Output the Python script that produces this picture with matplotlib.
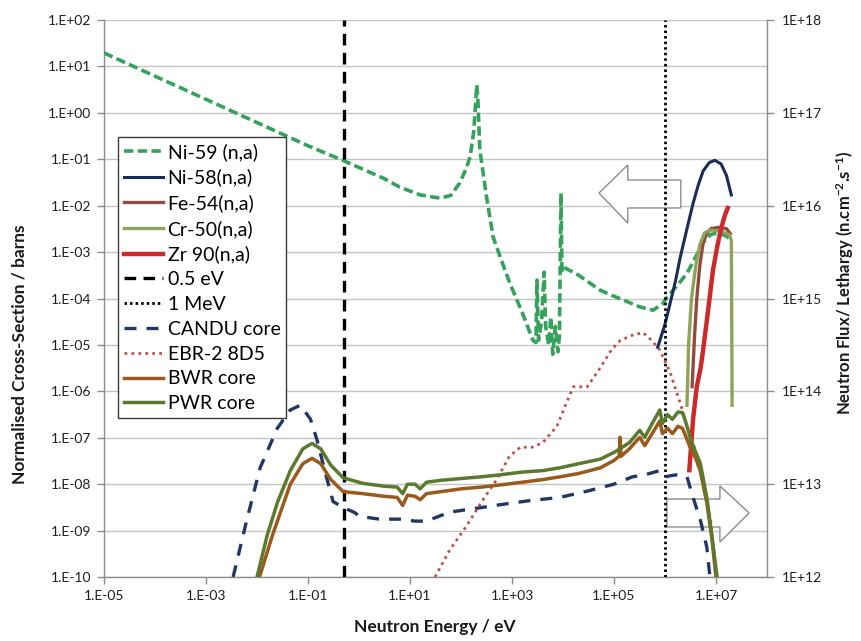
import matplotlib
matplotlib.use("Agg")
import matplotlib.pyplot as plt
from matplotlib.patches import Polygon

plt.rcParams['font.family'] = ['Lato', 'DejaVu Sans']
plt.rcParams['mathtext.fontset'] = 'custom'
plt.rcParams['mathtext.rm'] = 'Lato:bold'
plt.rcParams['mathtext.default'] = 'rm'

# ---------------- data (energy in eV) ----------------
ni59_E = [1e-5, 1e-3, 0.1, 0.5, 3.16, 6.3, 16, 39, 63, 95, 126, 151, 178, 204, 214, 234, 316, 427,
          631, 912, 1585, 2570, 2950, 3090, 3310, 3800, 4270, 4570, 5250, 5750, 6310, 7080, 7940,
          8510, 9120, 9550, 1.0e4, 2.0e4, 5.4e4, 1.0e5, 3.2e5, 5.8e5, 8.9e5, 1.1e6, 1.8e6, 2.7e6,
          4.0e6, 5.6e6, 7.9e6, 1.12e7, 1.6e7, 2.0e7]
ni59_xs = [19.5, 1.95, 0.195, 0.093, 0.038, 0.025, 0.017, 0.0145, 0.0166, 0.031, 0.063, 0.112, 0.40,
           4.0, 2.0, 0.16, 0.0158, 2.1e-3, 6.3e-4, 2.1e-4, 5.0e-5, 1.26e-5, 1.12e-5, 2.5e-4, 1.26e-5,
           3.2e-5, 3.7e-4, 2.5e-5, 1.0e-5, 4.0e-5, 6.3e-6, 2.5e-5, 7.1e-6, 1.6e-5, 1.86e-2, 4.0e-4,
           4.8e-4, 3.2e-4, 1.5e-4, 1.12e-4, 6.6e-5, 5.6e-5, 7.6e-5, 1.07e-4, 2.0e-4, 3.5e-4, 7.9e-4,
           1.6e-3, 2.4e-3, 2.6e-3, 2.2e-3, 1.8e-3]

ni58_E = [7.2e5, 1.0e6, 1.26e6, 1.58e6, 2.0e6, 2.7e6, 3.55e6, 4.5e6, 5.6e6, 7.4e6, 9.5e6, 1.26e7, 1.6e7, 2.0e7]
ni58_xs = [8.9e-6, 2.8e-5, 7.9e-5, 2.2e-4, 7.9e-4, 3.2e-3, 1.12e-2, 2.8e-2, 5.6e-2, 8.5e-2, 9.5e-2, 7.9e-2, 4.5e-2, 1.7e-2]

fe54_E = [3.4e6, 3.8e6, 4.2e6, 4.8e6, 5.6e6, 6.6e6, 7.9e6, 1.12e7, 1.6e7, 1.9e7]
fe54_xs = [1.26e-6, 1.6e-5, 1.0e-4, 5.0e-4, 1.6e-3, 2.5e-3, 3.2e-3, 3.4e-3, 3.2e-3, 2.5e-3]

cr50_E = [2.7e6, 2.9e6, 3.3e6, 4.0e6, 4.8e6, 6.0e6, 7.9e6, 1.26e7, 1.8e7, 2.0e7, 2.07e7]
cr50_xs = [5.0e-7, 1.0e-5, 1.0e-4, 5.0e-4, 1.4e-3, 2.6e-3, 3.0e-3, 2.8e-3, 2.4e-3, 1.8e-3, 5.0e-7]

zr90_E = [3.0e6, 3.55e6, 4.2e6, 5.0e6, 5.6e6, 7.1e6, 8.7e6, 1.05e7, 1.26e7, 1.5e7, 1.7e7]
zr90_xs = [2.0e-8, 2.5e-7, 1.26e-6, 3.2e-6, 7.9e-6, 6.3e-5, 4.0e-4, 1.26e-3, 3.2e-3, 6.3e-3, 8.9e-3]

candu_E = [3.4e-3, 6.3e-3, 1.15e-2, 2.5e-2, 4.5e-2, 7.1e-2, 0.112, 0.15, 0.224, 0.31, 0.49, 0.79, 1.05,
           2.5, 6.3, 12.6, 21, 60, 200, 575, 2000, 8700, 3.2e4, 1.0e5, 2.3e5, 4.0e5, 7.9e5, 1.0e6,
           1.6e6, 2.7e6, 3.55e6, 5.0e6, 6.6e6, 7.6e6]
candu_flux = [1.0e12, 4.1e12, 1.5e13, 4.0e13, 6.3e13, 7.1e13, 5.0e13, 3.0e13, 1.26e13, 6.5e12, 5.6e12,
              5.0e12, 4.5e12, 4.2e12, 4.2e12, 4.0e12, 4.0e12, 5.0e12, 5.5e12, 6.0e12, 6.6e12, 7.2e12,
              8.5e12, 1.0e13, 1.2e13, 1.26e13, 1.4e13, 1.2e13, 1.26e13, 1.2e13, 7.2e12, 4.0e12, 2.1e12, 1.0e12]

ebr2_E = [31, 60, 126, 270, 500, 890, 1450, 2500, 4000, 7600, 1.12e4, 1.6e4, 3.0e4, 5.4e4, 8.9e4,
          1.3e5, 2.2e5, 3.7e5, 5.6e5, 7.9e5, 1.26e6, 2.0e6, 3.16e6, 5.0e6, 7.9e6, 1.0e7]
ebr2_flux = [1.0e12, 1.95e12, 3.5e12, 6.8e12, 1.12e13, 2.0e13, 2.5e13, 2.5e13, 2.8e13, 4.2e13, 7.1e13,
             1.12e14, 1.12e14, 1.8e14, 2.8e14, 3.5e14, 4.0e14, 4.3e14, 3.5e14, 2.8e14, 1.6e14, 7.4e13,
             3.2e13, 1.6e13, 4.0e12, 1.0e12]

bwr_E = [0.0112, 0.02, 0.045, 0.079, 0.12, 0.178, 0.28, 0.49, 1.2, 3.16, 5.6, 7.2, 8.9, 12.6, 15.8, 21,
         40, 100, 250, 575, 1600, 4000, 8700, 2.0e4, 5.4e4, 1.0e5, 1.26e5, 1.32e5, 1.38e5, 2.0e5, 3.2e5,
         4.0e5, 5.6e5, 7.9e5, 8.9e5, 1.12e6, 1.4e6, 1.8e6, 2.2e6, 2.6e6, 3.1e6, 4.0e6, 4.9e6, 6.6e6,
         8.3e6, 1.0e7]
bwr_flux = [1.0e12, 2.8e12, 1.0e13, 1.66e13, 1.9e13, 1.66e13, 1.12e13, 8.3e12, 7.9e12, 7.4e12, 7.2e12,
            5.9e12, 7.6e12, 7.4e12, 6.8e12, 7.9e12, 8.3e12, 8.9e12, 9.3e12, 9.8e12, 1.05e13, 1.12e13,
            1.2e13, 1.3e13, 1.5e13, 1.8e13, 2.0e13, 3.2e13, 2.0e13, 2.4e13, 3.2e13, 2.6e13, 3.5e13, 4.8e13,
            3.5e13, 4.0e13, 3.5e13, 4.2e13, 4.0e13, 3.2e13, 2.5e13, 1.9e13, 1.4e13, 6.3e12, 2.6e12, 1.0e12]

pwr_E = [0.01, 0.0158, 0.025, 0.045, 0.079, 0.12, 0.178, 0.28, 0.49, 1.2, 3.16, 5.6, 7.2, 8.9, 12.6,
         15.8, 21, 40, 100, 250, 575, 1600, 4000, 8700, 2.0e4, 5.4e4, 1.0e5, 1.3e5, 2.0e5, 3.2e5, 4.0e5,
         5.6e5, 7.9e5, 8.9e5, 1.12e6, 1.4e6, 1.8e6, 2.2e6, 2.6e6, 3.1e6, 4.0e6, 4.9e6, 6.6e6, 8.3e6, 1.05e7]
pwr_flux = [1.0e12, 2.8e12, 6.3e12, 1.4e13, 2.4e13, 2.75e13, 2.4e13, 1.6e13, 1.17e13, 1.02e13, 9.5e12,
            9.3e12, 7.9e12, 1.0e13, 1.0e13, 8.9e12, 1.05e13, 1.1e13, 1.15e13, 1.2e13, 1.26e13, 1.35e13,
            1.4e13, 1.5e13, 1.66e13, 1.86e13, 2.2e13, 2.4e13, 2.8e13, 3.8e13, 3.2e13, 4.5e13, 6.3e13,
            4.5e13, 5.6e13, 5.0e13, 6.0e13, 5.9e13, 4.5e13, 3.2e13, 2.2e13, 1.7e13, 7.2e12, 2.8e12, 1.0e12]

thermal_cut = 0.5      # eV
fast_cut = 1.0e6       # eV

x_ticks = [1e-5, 1e-3, 1e-1, 1e1, 1e3, 1e5, 1e7]
x_ticklabels = ['1.E-05', '1.E-03', '1.E-01', '1.E+01', '1.E+03', '1.E+05', '1.E+07']
yl_ticks = [10.0 ** k for k in range(-10, 3)]
yl_ticklabels = ['1.E-10', '1.E-09', '1.E-08', '1.E-07', '1.E-06', '1.E-05', '1.E-04',
                 '1.E-03', '1.E-02', '1.E-01', '1.E+00', '1.E+01', '1.E+02']
yr_ticks = [10.0 ** k for k in range(12, 19)]
yr_ticklabels = ['1E+12', '1E+13', '1E+14', '1E+15', '1E+16', '1E+17', '1E+18']

# ---------------- figure ----------------
W, H = 862, 641
fig = plt.figure(figsize=(W / 100, H / 100), dpi=100)
L, R, T, B = 104, 767, 20, 577
ax = fig.add_axes([L / W, 1 - B / H, (R - L) / W, (B - T) / H])
ax.set_xscale('log')
ax.set_yscale('log')
ax.set_xlim(1e-5, 1e8)
ax.set_ylim(1e-10, 1e2)

axis_col = '#8a8a8a'
grid_col = '#c4c4c4'
tick_col = '#1e1e1e'

ax.set_yticks(yl_ticks)
ax.set_yticklabels(yl_ticklabels)
ax.set_xticks(x_ticks)
ax.set_xticklabels(x_ticklabels)
ax.minorticks_off()
ax.yaxis.grid(True, color=grid_col, lw=1.0)
ax.set_axisbelow(True)
for s in ['top', 'right']:
    ax.spines[s].set_visible(False)
for s in ['left', 'bottom']:
    ax.spines[s].set_color(axis_col)
    ax.spines[s].set_linewidth(1.0)
ax.tick_params(axis='both', which='major', direction='out', length=5, width=1.0, color=axis_col,
               labelsize=10, labelcolor=tick_col, pad=4)

# cross sections
l_ni59, = ax.plot(ni59_E, ni59_xs, color='#35a25c', lw=2.6, dashes=(2.6, 1.2), zorder=3, label='Ni-59 (n,a)')
l_ni58, = ax.plot(ni58_E, ni58_xs, color='#1b2d57', lw=2.2, zorder=3, label='Ni-58(n,a)')
l_fe54, = ax.plot(fe54_E, fe54_xs, color='#8e4b3e', lw=2.4, zorder=3, label='Fe-54(n,a)')
l_cr50, = ax.plot(cr50_E, cr50_xs, color='#8ea25a', lw=2.4, zorder=3, label='Cr-50(n,a)')
l_zr90, = ax.plot(zr90_E, zr90_xs, color='#cc2a2a', lw=3.2, zorder=3, label='Zr 90(n,a)')
l_th = ax.axvline(thermal_cut, color='black', lw=2.4, dashes=(3.5, 2.2), zorder=3, label='0.5 eV')
l_fa = ax.axvline(fast_cut, color='black', lw=2.0, dashes=(0.9, 1.1), zorder=3, label='1 MeV')

# arrows (axes fraction)
left_arrow = [(0.7466, 0.6894), (0.790, 0.7397), (0.790, 0.7127), (0.870, 0.7127),
              (0.870, 0.6625), (0.790, 0.6625), (0.790, 0.6355)]
right_arrow = [(0.973, 0.115), (0.929, 0.1634), (0.929, 0.140), (0.849, 0.140),
               (0.849, 0.0898), (0.929, 0.0898), (0.929, 0.0628)]
for pts in (left_arrow, right_arrow):
    ax.add_patch(Polygon(pts, closed=True, transform=ax.transAxes, facecolor='white',
                         edgecolor='#8c8c8c', lw=1.0, zorder=2))

# flux (right axis)
ax2 = ax.twinx()
ax2.set_yscale('log')
ax2.set_ylim(1e12, 1e18)
ax2.set_yticks(yr_ticks)
ax2.set_yticklabels(yr_ticklabels)
ax2.minorticks_off()
for s in ['top', 'left', 'bottom']:
    ax2.spines[s].set_visible(False)
ax2.spines['right'].set_color(axis_col)
ax2.spines['right'].set_linewidth(1.0)
ax2.tick_params(axis='y', which='major', direction='out', length=5, width=1.0, color=axis_col,
                labelsize=10, labelcolor=tick_col, pad=6)

l_candu, = ax2.plot(candu_E, candu_flux, color='#1f3864', lw=2.4, dashes=(3.6, 3.0), label='CANDU core')
l_ebr, = ax2.plot(ebr2_E, ebr2_flux, color='#c0504d', lw=2.0, dashes=(1.0, 1.5), label='EBR-2 8D5')
l_bwr, = ax2.plot(bwr_E, bwr_flux, color='#9a5a1c', lw=2.5, label='BWR core')
l_pwr, = ax2.plot(pwr_E, pwr_flux, color='#5b7a30', lw=2.5, label='PWR core')

handles = [l_ni59, l_ni58, l_fe54, l_cr50, l_zr90, l_th, l_fa, l_candu, l_ebr, l_bwr, l_pwr]
leg = ax2.legend(handles=handles, loc='upper left', bbox_to_anchor=(0.021, 0.790), borderaxespad=0,
                 fontsize=14, frameon=True, fancybox=False, edgecolor='#3a3a3a', framealpha=1,
                 handlelength=2.0, handletextpad=0.25, labelspacing=0.4, borderpad=0.3)
leg.get_frame().set_linewidth(1.0)
leg.set_zorder(10)

# axis titles
fig.text(20 / W, 1 - 354 / H, 'Normalised Cross-Section / barns', rotation=90, ha='center', va='center',
         fontsize=12.5, fontweight='bold', color='#1a1a1a')
fig.text(435 / W, 1 - 627 / H, 'Neutron Energy / eV', ha='center', va='center',
         fontsize=12.5, fontweight='bold', color='#1a1a1a')
fig.text(845 / W, 1 - 283 / H, 'Neutron Flux/ Lethargy (n.cm$^{-2}$.s$^{-1}$)', rotation=90,
         ha='center', va='center', fontsize=12, fontweight='bold', color='#1a1a1a')

fig.savefig('out.png', dpi=100)
